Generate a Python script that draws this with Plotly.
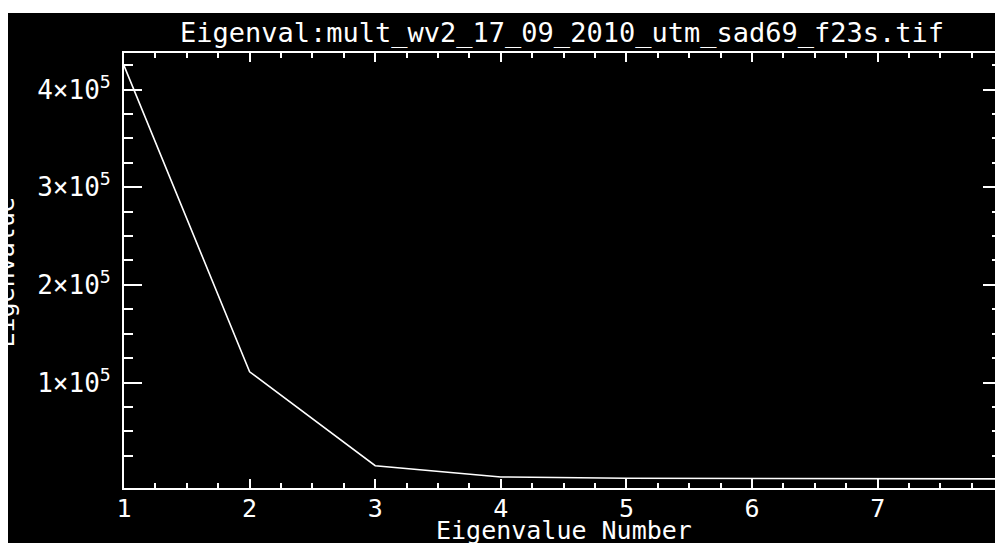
import plotly.graph_objects as go

# ---- data ----
eig_num = [1, 2, 3, 4, 5, 6, 7, 8]
eig_val = [424500, 111000, 14800, 3300, 2000, 1700, 1500, 1300]
x_tickvals = [1, 2, 3, 4, 5, 6, 7]
x_ticktext = ["1", "2", "3", "4", "5", "6", "7"]
x_edge_label = "8"
y_tickvals = [100000, 200000, 300000, 400000]
y_ticktext = ["1×10<sup>5</sup>", "2×10<sup>5</sup>", "3×10<sup>5</sup>", "4×10<sup>5</sup>"]
title_text = "Eigenval:mult_wv2_17_09_2010_utm_sad69_f23s.tif"
x_title = "Eigenvalue Number"
y_title = "Eigenvalue"

# ---- layout geometry (page pixels; page body has an 8px margin) ----
OFF = 8
W, H = 1003 - OFF, 545 - OFF
AX_L, AX_T, AX_B = 124, 53, 488          # page px of left / top / bottom axis lines
L, T = AX_L - OFF, AX_T - OFF
B = H - (AX_B - OFF)
R = 0
PW, PH = W - L - R, H - T - B
px_per_x = 125.9
x_range = [1, 1 + PW / px_per_x]
y_range = [-8000, 437400]
FONT = "DejaVu Sans Mono"

y_minor = [v * 25000 for v in range(1, 18) if v % 4 != 0]
x_minor = [1 + v * 0.25 for v in range(1, 32) if v % 4 != 0]

def pxx(page_x):
    return (page_x - OFF - L) / PW

def pxy(page_y):
    return (H - B - (page_y - OFF)) / PH

fig = go.Figure()
fig.add_trace(go.Scatter(x=eig_num, y=eig_val, mode="lines",
                         line=dict(color="white", width=1.6),
                         showlegend=False, hoverinfo="skip"))

shapes = [
    dict(type="rect", xref="paper", yref="paper", layer="below",
         x0=pxx(7), x1=pxx(1020), y0=pxy(543), y1=pxy(13),
         fillcolor="black", line=dict(width=0)),
]

tick_font = dict(family=FONT, size=25, color="white")

fig.update_layout(
    width=W, height=H,
    margin=dict(l=L, r=R, t=T, b=B, pad=0),
    paper_bgcolor="white",
    plot_bgcolor="black",
    shapes=shapes,
    xaxis=dict(range=x_range, showgrid=False, zeroline=False,
               showline=True, linecolor="white", linewidth=2, mirror="ticks",
               ticks="inside", ticklen=9, tickwidth=1.5, tickcolor="white",
               tickmode="array", tickvals=x_tickvals, ticktext=x_ticktext,
               tickfont=tick_font, ticklabelstandoff=-3,
               minor=dict(tickmode="array", tickvals=x_minor, ticks="inside",
                          ticklen=5, tickwidth=1.5, tickcolor="white")),
    yaxis=dict(range=y_range, showgrid=False, zeroline=False,
               showline=True, linecolor="white", linewidth=2, mirror="ticks",
               ticks="inside", ticklen=18, tickwidth=1.5, tickcolor="white",
               tickmode="array", tickvals=y_tickvals, ticktext=y_ticktext,
               tickfont=dict(family=FONT, size=26, color="white"),
               ticklabelstandoff=6,
               minor=dict(tickmode="array", tickvals=y_minor, ticks="inside",
                          ticklen=9, tickwidth=1.5, tickcolor="white")),
    annotations=[
        dict(text=title_text, xref="paper", yref="paper",
             x=pxx(563), y=1, xanchor="center", yanchor="bottom", yshift=2,
             showarrow=False, font=dict(family=FONT, size=27, color="white")),
        dict(text=x_title, xref="paper", yref="paper",
             x=pxx(565), y=0, xanchor="center", yanchor="top", yshift=-26,
             showarrow=False, font=dict(family=FONT, size=25, color="white")),
        dict(text=x_edge_label, xref="paper", yref="paper",
             x=(8 - x_range[0]) / (x_range[1] - x_range[0]), y=0,
             xanchor="center", yanchor="top", yshift=-1, showarrow=False,
             font=tick_font),
        dict(text=y_title, xref="paper", yref="paper", x=0, y=pxy(272),
             xanchor="right", yanchor="middle", xshift=-(L - 13), textangle=-90,
             showarrow=False, font=dict(family=FONT, size=25, color="white")),
    ],
)

fig.write_html("out.html")
